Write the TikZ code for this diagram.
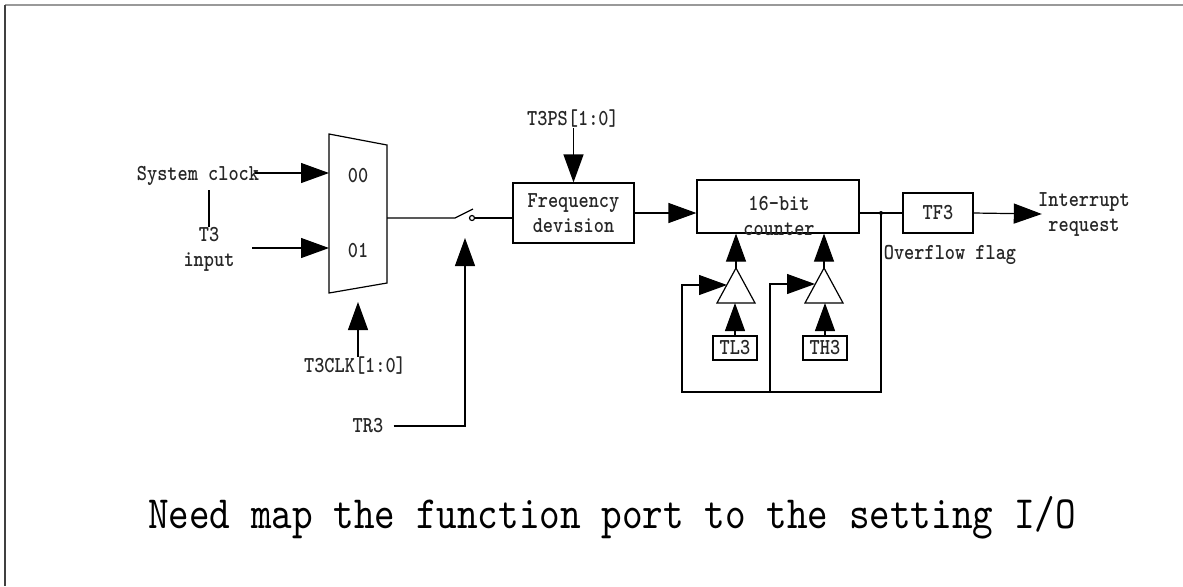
\documentclass[tikz,border=0pt]{standalone}
\usepackage{fontspec}
\usepackage{tikz}
\usetikzlibrary{arrows.meta,positioning}
\newfontfamily\lblfont[FakeStretch=0.85]{lmmonolt10-bold.otf}
\newfontfamily\notefont[FakeStretch=0.85]{lmmono10-regular.otf}

\begin{document}
\begin{tikzpicture}[x=0.5pt,y=-0.5pt,
		lbl/.style={inner sep=0pt, text=black!85, font=\lblfont\fontsize{11.4}{12.5}\selectfont, align=center},
		blk/.style={draw, line width=0.6pt, inner sep=0pt},
		arr/.style={line width=0.6pt, -{Triangle[length=14pt,width=10pt]}},
		wire/.style={line width=0.6pt}]
	\useasboundingbox (0,0) rectangle (1183,586);

	% Draw frame lines at top and left
	\draw[black!40, line width=1pt] (5,5) -- (1183,5);
	\draw[black!75, line width=1pt] (5,5) -- (5,586);

	% Draw multiplexer as a trapezoid
	\coordinate (mux tl) at (329,134);
	\coordinate (mux tr) at (387,145);
	\coordinate (mux br) at (387,283);
	\coordinate (mux bl) at (329,293);
	\draw[wire] (mux tl) -- (mux tr) -- (mux br) -- (mux bl) -- cycle;
	\node[lbl] (sel00) at (358,176) {00};
	\node[lbl] (sel01) at (358,251) {01};

	% Draw clock inputs of the multiplexer
	\node[lbl] (sysclk) at (198,176) {System clock};
	\node[lbl] (t3in) at (209,249) {T3\\input};
	\coordinate (sysclk end) at (255,173);
	\coordinate (t3in end) at (252,248);
	\draw[arr] (sysclk end) -- (sysclk end -| mux tl);
	\draw[arr] (t3in end) -- (t3in end -| mux tl);
	\draw[wire] ([yshift=-2pt]sysclk.south -| t3in.north) -- (t3in.north);

	% Draw select input of the multiplexer
	\node[lbl] (t3clk) at (355,366) {T3CLK[1:0]};
	\coordinate (t3clk tip) at (358,302);
	\draw[arr] (t3clk.north -| t3clk tip) -- (t3clk tip);

	% Draw switch between multiplexer and divider
	\coordinate (mux out) at (387,218);
	\coordinate (sw in) at (455,218);
	\coordinate (sw out) at (472,218);
	\draw[wire] (mux out) -- (sw in) -- ++(18,-9);
	\draw[wire] (sw out) circle[radius=2.5];

	% Draw frequency division block with its control
	\node[blk, lbl, minimum width=60.5pt, minimum height=30pt] (freq) at (573.5,213) {Frequency\\devision};
	\draw[wire] ([xshift=1.25pt]sw out) -- (freq.west |- sw out);
	\node[lbl] (t3ps) at (573,119) {T3PS[1:0]};
	\draw[arr] (t3ps.south -| freq.north) -- (freq.north);

	% Draw TR3 control of the switch
	\node[lbl] (tr3) at (368,426) {TR3};
	\coordinate (tr3 corner) at (465,426);
	\coordinate (tr3 tip) at (465,238);
	\draw[arr] ([xshift=5pt]tr3.east) -- (tr3 corner) -- (tr3 tip);

	% Draw 16-bit counter
	\node[blk, minimum width=81pt, minimum height=26.5pt] (counter) at (778,206.5) {};
	\node[lbl] (counter txt) at (779,216) {16-bit\\counter};
	\draw[arr] (freq.east) -- (counter.west |- freq.east);

	% Draw overflow flag and interrupt request
	\node[blk, lbl, minimum width=35pt, minimum height=20pt] (tf3) at (938,213) {TF3};
	\coordinate (ovf) at (881,213);
	\draw[wire] (counter.east |- tf3.west) -- (tf3.west);
	\fill (ovf) circle[radius=2];
	\node[lbl] (ovf txt) at (950,255) {Overflow flag};
	\node[lbl] (irq) at (1084,214) {Interrupt\\request};
	\draw[arr] (tf3.east) -- ([xshift=2pt]irq.west);

	% Draw reload buffers for TL3 and TH3
	\coordinate (bufl) at (736,268);
	\coordinate (bufh) at (824,268);
	\foreach \b in {bufl,bufh}
	\draw[wire] (\b) -- ++(19,35) -- ++(-38,0) -- cycle;
	\node[blk, lbl, minimum width=22pt, minimum height=12pt] (tl3) at (735,348) {TL3};
	\node[blk, lbl, minimum width=22pt, minimum height=12pt] (th3) at (825,348) {TH3};
	\draw[arr] (tl3.north) -- (tl3.north |- 0,303);
	\draw[arr] (th3.north) -- (th3.north |- 0,303);
	\draw[arr] (bufl) -- (bufl |- counter.south);
	\draw[arr] (bufh) -- (bufh |- counter.south);

	% Draw feedback loop from overflow to buffers
	\coordinate (loop r) at (881,392);
	\coordinate (loop l) at (682,392);
	\coordinate (loop m) at (770,392);
	\draw[arr] (ovf) -- (loop r) -- (loop l) -- (682,285) -- (727,285);
	\draw[arr] (loop m) -- (770,284) -- (815,284);

	% Draw note at the bottom
	\node[inner sep=0pt, text=black, font=\notefont\fontsize{23.1}{28}\selectfont] (note) at (612,518) {Need map the function port to the setting I/O};
\end{tikzpicture}
\end{document}
